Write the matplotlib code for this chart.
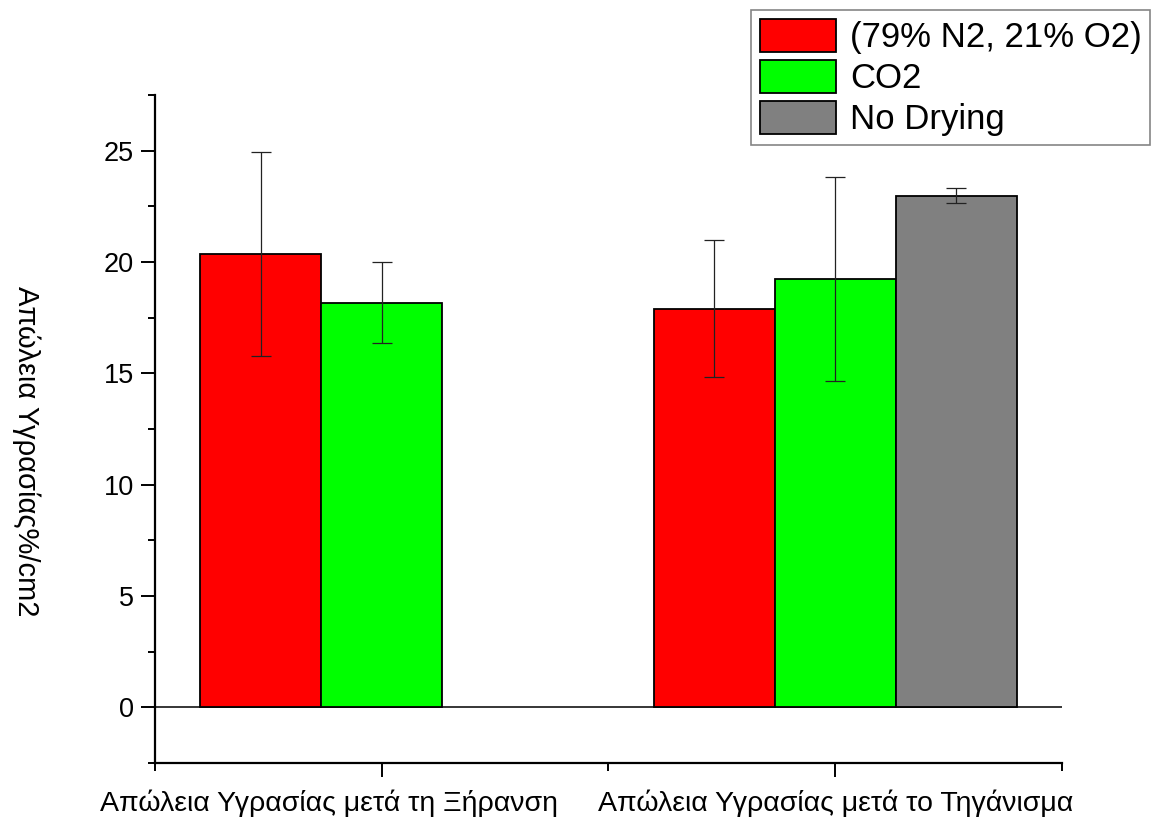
"""
Moisture loss per cm2 after drying and after frying, by drying gas
"""

import matplotlib
matplotlib.use("Agg")
import matplotlib.pyplot as plt
import matplotlib.transforms as mtransforms
import numpy as np
from matplotlib.ticker import FixedLocator, MultipleLocator

plt.rcParams['font.family'] = ['Liberation Sans', 'DejaVu Sans']

categories = ['Απώλεια Υγρασίας μετά τη Ξήρανση', 'Απώλεια Υγρασίας μετά το Τηγάνισμα']
series_labels = ['(79% N2, 21% O2)', 'CO2', 'No Drying']
air_vals = [20.38, 17.91]
air_err = [4.58, 3.07]
co2_vals = [18.18, 19.25]
co2_err = [1.80, 4.58]
nodry_vals = [np.nan, 22.98]
nodry_err = [np.nan, 0.33]
colors = ['#ff0000', '#00ff00', '#808080']

x = np.array([1.0, 3.0])
width = 0.533

fig = plt.figure(figsize=(11.73, 8.21), dpi=100)
ax = fig.add_axes([0.1321, 0.0706, 0.7733, 0.8137])

series = [(air_vals, air_err), (co2_vals, co2_err), (nodry_vals, nodry_err)]
handles = []
for i, (vals, errs) in enumerate(series):
    vals = np.array(vals, dtype=float)
    errs = np.array(errs, dtype=float)
    keep = ~np.isnan(vals)
    pos = x[keep] + (i - 1) * width
    b = ax.bar(pos, vals[keep], width, color=colors[i], edgecolor='black',
               linewidth=1.3, label=series_labels[i], zorder=2)
    ax.errorbar(pos, vals[keep], yerr=errs[keep], fmt='none', ecolor='#222222',
                elinewidth=0.9, capsize=7, capthick=0.9, zorder=3)
    handles.append(b)

ax.axhline(0, color='black', linewidth=1.1, zorder=1)

ax.set_xlim(0, 4)
ax.set_ylim(-2.5, 27.5)
ax.set_xticks(x)
ax.set_xticklabels(categories)
ax.xaxis.set_minor_locator(FixedLocator([0, 2, 4]))
ax.yaxis.set_major_locator(MultipleLocator(5))
ax.yaxis.set_minor_locator(MultipleLocator(2.5))

for s in ['top', 'right']:
    ax.spines[s].set_visible(False)
for s in ['left', 'bottom']:
    ax.spines[s].set_linewidth(1.6)

ax.tick_params(axis='y', which='major', length=10, width=1.4, labelsize=19.5, pad=5)
ax.tick_params(axis='y', which='minor', length=5, width=1.4)
ax.tick_params(axis='x', which='major', length=10, width=1.4, labelsize=20.5, pad=9)
ax.tick_params(axis='x', which='minor', length=6, width=1.4)

# first category label sits left of its tick in the original
shift = mtransforms.ScaledTranslation(-0.53, 0, fig.dpi_scale_trans)
lbl = ax.get_xticklabels()[0]
lbl.set_transform(lbl.get_transform() + shift)

ax.set_ylabel('Απώλεια Υγρασίας%/cm2', fontsize=21, rotation=270, va='center')
ax.yaxis.set_label_coords(-0.142, 0.466)

leg = fig.legend(handles=handles, labels=series_labels, loc='upper left',
                 bbox_to_anchor=(751 / 1173, 1 - 10 / 821), fontsize=25,
                 frameon=True, fancybox=False, edgecolor='#666666',
                 handlelength=2.2, handleheight=1.1, labelspacing=0.16,
                 handletextpad=0.4, borderpad=0.25, borderaxespad=0)
leg.get_frame().set_linewidth(1.2)

fig.savefig('out.png', dpi=100)
